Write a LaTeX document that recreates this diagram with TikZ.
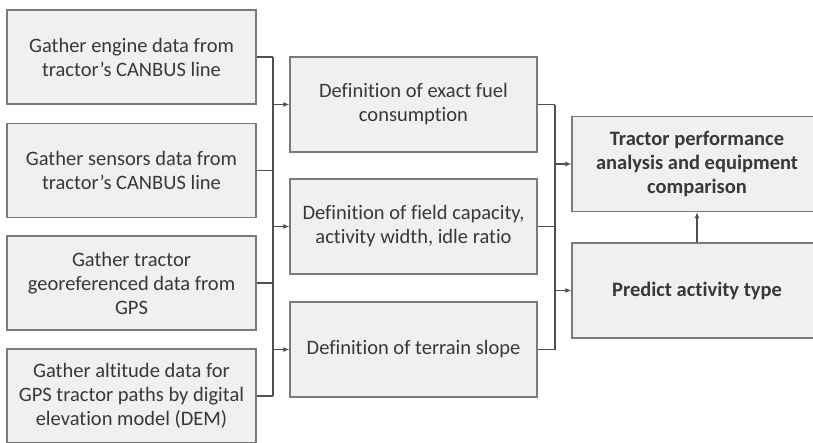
\documentclass[tikz,border=0pt]{standalone}
\usepackage{fontspec}
\setmainfont{Carlito}[Ligatures=NoCommon]
\usetikzlibrary{arrows.meta}
\definecolor{boxfill}{HTML}{F0F0F0}
\definecolor{boxline}{HTML}{7A7A7A}
\definecolor{txt}{HTML}{383838}
\definecolor{wire}{HTML}{505050}
\tikzset{
  card/.style={draw=boxline, fill=boxfill, line width=1.3pt, inner sep=0pt,
    align=center, text=txt, font=\fontsize{20.5}{24}\selectfont},
  leftcard/.style={card, minimum width=249pt, minimum height=94pt},
  midcard/.style={card, minimum width=247pt, minimum height=95pt},
  rightcard/.style={card, minimum width=250pt, minimum height=95pt,
    font=\fontsize{20.5}{24}\selectfont\bfseries},
  link/.style={draw=wire, line width=1.1pt},
  feed/.style={link, -{Latex[length=6pt,width=5pt]}}
}
\begin{document}
\begin{tikzpicture}[x=1pt, y=-1pt]
  \useasboundingbox (0,0) rectangle (813,442);
  \clip (0,0) rectangle (813,442);

  % data sources
  \node[leftcard] (l1) at (131.5,57)  {Gather engine data from\\tractor’s CANBUS line};
  \node[leftcard] (l2) at (131.5,170.5) {Gather sensors data from\\tractor’s CANBUS line};
  \node[leftcard] (l3) at (131.5,283) {Gather tractor\\georeferenced data from\\GPS};
  \node[leftcard] (l4) at (131.5,396) {Gather altitude data for\\GPS tractor paths by digital\\elevation model (DEM)};

  % derived quantities
  \node[midcard] (m1) at (413.5,104.5) {Definition of exact fuel\\consumption};
  \node[midcard] (m2) at (413.5,226.5) {Definition of field capacity,\\activity width, idle ratio};
  \node[midcard] (m3) at (413.5,349.5) {Definition of terrain slope};

  % results
  \node[rightcard] (r1) at (697,164) {Tractor performance\\analysis and equipment\\comparison};
  \node[rightcard] (r2) at (697,290.5) {Predict activity type};

  % collecting lines
  \coordinate (busA) at (273,0);
  \coordinate (busB) at (555,0);

  \foreach \n in {l1,l2,l3,l4}
    \draw[link] (\n.east) -- (\n.east -| busA);
  \draw[link] (l1.east -| busA) -- (l4.east -| busA);
  \foreach \n in {m1,m2,m3}
    \draw[feed] (\n.west -| busA) -- (\n.west);

  \foreach \n in {m1,m2,m3}
    \draw[link] (\n.east) -- (\n.east -| busB);
  \draw[link] (m1.east -| busB) -- (m3.east -| busB);
  \foreach \n in {r1,r2}
    \draw[feed] (\n.west -| busB) -- (\n.west);

  \draw[feed] (r2.north) -- (r1.south);
\end{tikzpicture}
\end{document}
